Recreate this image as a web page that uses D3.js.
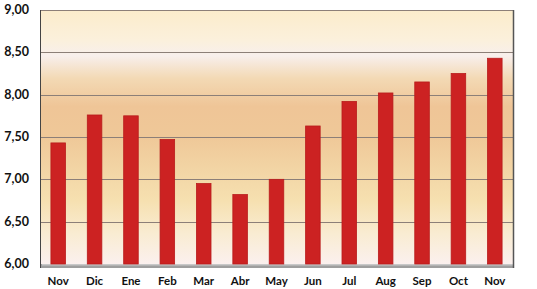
<!DOCTYPE html>
<html>
<head>
<meta charset="utf-8">
<script src="https://cdn.jsdelivr.net/npm/d3@7"></script>
<style>
  body { margin: 0; background: #fff; }
  text { font-family: Lato, "Open Sans", sans-serif; font-weight: bold; fill: #111; }
</style>
</head>
<body>
<div id="chart"></div>
<script>
// months and values
var months = ["Nov", "Dic", "Ene", "Feb", "Mar", "Abr", "May", "Jun", "Jul", "Aug", "Sep", "Oct", "Nov"];
var values = [7.43, 7.76, 7.75, 7.47, 6.95, 6.82, 7.00, 7.63, 7.92, 8.02, 8.15, 8.25, 8.43];
var yTicks = [6.0, 6.5, 7.0, 7.5, 8.0, 8.5, 9.0];

var width = 537, height = 289;
var plotLeft = 40, plotRight = 513, plotTop = 10, plotBottom = 264;

var svg = d3.select("#chart").append("svg")
	.attr("width", width)
	.attr("height", height);

var defs = svg.append("defs");
var grad = defs.append("linearGradient")
	.attr("id", "wall")
	.attr("x1", 0).attr("y1", 0).attr("x2", 0).attr("y2", 1);
[[0, "#fbeccb"], [0.12, "#fbf0dc"], [0.18, "#f8efec"], [0.27, "#f3d9b4"],
 [0.38, "#efc597"], [0.5, "#efc898"], [0.62, "#f2d4a4"], [0.75, "#f6e0b0"],
 [0.88, "#f9ecd2"], [1, "#fbf0ee"]].forEach(function(s) {
	grad.append("stop").attr("offset", s[0]).attr("stop-color", s[1]);
});

var x = d3.scaleBand()
	.domain(d3.range(months.length))
	.range([plotLeft, plotRight])
	.paddingInner(0.6)
	.paddingOuter(0.3);

var y = d3.scaleLinear()
	.domain([6, 9])
	.range([plotBottom, plotTop]);

// back wall
svg.append("rect")
	.attr("x", plotLeft).attr("y", plotTop)
	.attr("width", plotRight - plotLeft).attr("height", plotBottom - plotTop)
	.attr("fill", "url(#wall)");

// grid lines
svg.selectAll("line.grid")
	.data(yTicks.slice(1))
	.enter()
	.append("line")
	.attr("class", "grid")
	.attr("x1", plotLeft).attr("x2", plotRight)
	.attr("y1", function(d) { return Math.round(y(d)) + 0.5; })
	.attr("y2", function(d) { return Math.round(y(d)) + 0.5; })
	.attr("stroke", "#8c7f78")
	.attr("stroke-width", 1);

// floor
svg.append("rect")
	.attr("x", plotLeft).attr("y", plotBottom)
	.attr("width", plotRight - plotLeft).attr("height", 4)
	.attr("fill", "#9e9e9e");
svg.append("rect")
	.attr("x", plotLeft + 2).attr("y", plotBottom)
	.attr("width", plotRight - plotLeft - 2).attr("height", 1.5)
	.attr("fill", "#c8c8c8");

// wall edges
svg.append("line")
	.attr("x1", plotLeft + 0.5).attr("x2", plotLeft + 0.5)
	.attr("y1", plotTop).attr("y2", plotBottom + 4)
	.attr("stroke", "#444").attr("stroke-width", 1);
svg.append("line")
	.attr("x1", plotRight + 0.5).attr("x2", plotRight + 0.5)
	.attr("y1", plotTop).attr("y2", plotBottom + 4)
	.attr("stroke", "#555").attr("stroke-width", 1.5);

// bars
svg.selectAll("rect.bar")
	.data(values)
	.enter()
	.append("rect")
	.attr("class", "bar")
	.attr("x", function(d, i) { return x(i); })
	.attr("y", function(d) { return y(d); })
	.attr("width", x.bandwidth())
	.attr("height", function(d) { return plotBottom - y(d); })
	.attr("fill", "#cc2222")
	.attr("stroke", "#b81c1c")
	.attr("stroke-width", 0.8);

// y axis labels
svg.selectAll("text.ylab")
	.data(yTicks)
	.enter()
	.append("text")
	.attr("class", "ylab")
	.attr("x", 29)
	.attr("y", function(d) { return y(d) + 4; })
	.attr("text-anchor", "end")
	.style("font-size", "12.5px")
	.text(function(d) { return d.toFixed(2).replace(".", ","); });

// x axis labels
svg.selectAll("text.xlab")
	.data(months)
	.enter()
	.append("text")
	.attr("class", "xlab")
	.attr("x", function(d, i) { return x(i) + x.bandwidth() / 2; })
	.attr("y", 285)
	.attr("text-anchor", "middle")
	.style("font-size", "11.5px")
	.text(function(d) { return d; });
</script>
</body>
</html>
